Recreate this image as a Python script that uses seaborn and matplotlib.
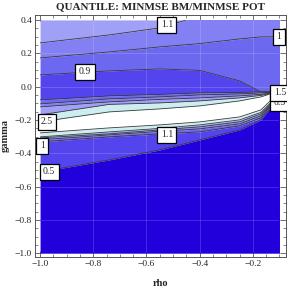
import numpy as np
import matplotlib
matplotlib.use('Agg')
import matplotlib.pyplot as plt
import seaborn as sns
from matplotlib.patches import Rectangle

rho = [-1.0, -0.74, -0.55, -0.4, -0.25, -0.17, -0.135, -0.1]

# contour lines (gamma values at each rho), top to bottom
top_11 = [0.262, 0.310, 0.352, 0.424, 0.472, 0.496, 0.508, 0.520]
top_10 = [0.172, 0.208, 0.238, 0.258, 0.286, 0.298, 0.298, 0.302]
top_09 = [0.070, 0.094, 0.106, 0.097, 0.034, -0.032, -0.032, -0.032]
up_09 = [-0.080, -0.056, -0.047, -0.038, -0.035, -0.032, -0.032, -0.032]
up_10 = [-0.104, -0.074, -0.062, -0.050, -0.044, -0.038, -0.035, -0.035]
up_11 = [-0.122, -0.092, -0.077, -0.068, -0.056, -0.047, -0.038, -0.038]
up_15 = [-0.170, -0.107, -0.098, -0.086, -0.068, -0.053, -0.041, -0.041]
up_25 = [-0.212, -0.152, -0.134, -0.116, -0.086, -0.062, -0.044, -0.044]
lo_25 = [-0.278, -0.248, -0.230, -0.212, -0.182, -0.140, -0.086, -0.074]
lo_15 = [-0.302, -0.272, -0.251, -0.230, -0.200, -0.155, -0.100, -0.090]
lo_11 = [-0.308, -0.284, -0.260, -0.242, -0.212, -0.164, -0.106, -0.098]
lo_10 = [-0.320, -0.290, -0.269, -0.254, -0.224, -0.176, -0.112, -0.104]
lo_09 = [-0.332, -0.302, -0.284, -0.272, -0.236, -0.188, -0.118, -0.110]
lo_05 = [-0.512, -0.440, -0.380, -0.320, -0.260, -0.200, -0.128, -0.122]

gamma_top = [0.4] * len(rho)
gamma_bottom = [-1.0] * len(rho)

# contour labels
label_text = ["1.1", "1", "0.9", "0.5", "1.5", "2.5", "1", "1.1", "0.5"]
label_rho = [-0.523, -0.103, -0.831, -0.098, -0.098, -0.974, -0.992, -0.523, -0.966]
label_gamma = [0.370, 0.298, 0.088, -0.098, -0.038, -0.212, -0.356, -0.290, -0.512]

c_high = '#a0a0f6'
c_1011 = '#8280f2'
c_0910 = '#6c68f0'
c_low = '#5444ee'
c_dark = '#2200dc'
c_cyan = '#cdeef0'
c_white = '#ffffff'

sns.set_theme(style="white")
plt.rcParams['font.family'] = ['Liberation Serif', 'DejaVu Serif']

fig = plt.figure(figsize=(2.87, 2.87), dpi=100)
ax = fig.add_axes([0.122, 0.105, 0.875, 0.843])

clip = Rectangle((-1.0, -1.0), 0.9, 1.4, transform=ax.transData)

bands = [
    (gamma_top, top_11, c_high),
    (top_11, top_10, c_1011),
    (top_10, top_09, c_0910),
    (top_09, up_09, c_low),
    (up_09, up_10, c_0910),
    (up_10, up_11, c_1011),
    (up_11, up_15, c_high),
    (up_15, up_25, c_cyan),
    (up_25, lo_25, c_white),
    (lo_25, lo_15, c_cyan),
    (lo_15, lo_11, c_high),
    (lo_11, lo_10, c_1011),
    (lo_10, lo_09, c_0910),
    (lo_09, lo_05, c_low),
    (lo_05, gamma_bottom, c_dark),
]
for upper, lower, col in bands:
    poly = ax.fill_between(rho, lower, upper, color=col, lw=0)
    poly.set_clip_path(clip)

# faint grid inside the plot
for v in [-0.8, -0.6, -0.4, -0.2]:
    ax.plot([v, v], [-1.0, 0.4], color='white', lw=0.6, alpha=0.18)
for v in [-0.8, -0.6, -0.4, -0.2, 0.0, 0.2]:
    ax.plot([-1.0, -0.1], [v, v], color='white', lw=0.6, alpha=0.18)

lines = [top_11, top_10, top_09, up_09, up_10, up_11, up_15, up_25,
         lo_25, lo_15, lo_11, lo_10, lo_09, lo_05]
for g in lines:
    sns.lineplot(x=rho, y=g, ax=ax, color='#3a3a3a', lw=0.6, estimator=None, sort=False)
for ln in ax.lines:
    ln.set_clip_path(clip)

for t, x, y in zip(label_text, label_rho, label_gamma):
    ax.text(x, y, t, ha='center', va='center', fontsize=7, clip_on=False,
            bbox=dict(boxstyle='square,pad=0.35', fc='white', ec='black', lw=0.9))

ax.set_xlim(-1.019, -0.075)
ax.set_ylim(-1.022, 0.43)
ax.set_xticks([-1.0, -0.8, -0.6, -0.4, -0.2])
ax.set_yticks([-1.0, -0.8, -0.6, -0.4, -0.2, 0.0, 0.2, 0.4])
ax.set_xticklabels(['\u22121.0', '\u22120.8', '\u22120.6', '\u22120.4', '\u22120.2'])
ax.set_yticklabels(['\u22121.0', '\u22120.8', '\u22120.6', '\u22120.4', '\u22120.2', '0.0', '0.2', '0.4'])
ax.set_xticks(np.arange(-1.0, -0.05, 0.05), minor=True)
ax.set_yticks(np.arange(-1.0, 0.45, 0.05), minor=True)
ax.tick_params(which='major', direction='in', length=4, width=0.6, labelsize=6.8,
               bottom=True, left=True, top=True, right=True, labeltop=False, labelright=False,
               color='#555555', pad=2)
ax.tick_params(which='minor', direction='in', length=2, width=0.5,
               bottom=True, left=True, top=True, right=True, color='#555555')
for s in ax.spines.values():
    s.set_color('#555555')
    s.set_linewidth(0.7)

ax.set_xlabel('rho', fontsize=7.5, fontweight='bold', labelpad=8)
ax.set_ylabel('gamma', fontsize=7.5, fontweight='bold', labelpad=4)
ax.set_title('QUANTILE: MINMSE BM/MINMSE POT', fontsize=8, fontweight='bold', pad=4)

fig.savefig('out.png', dpi=100)
